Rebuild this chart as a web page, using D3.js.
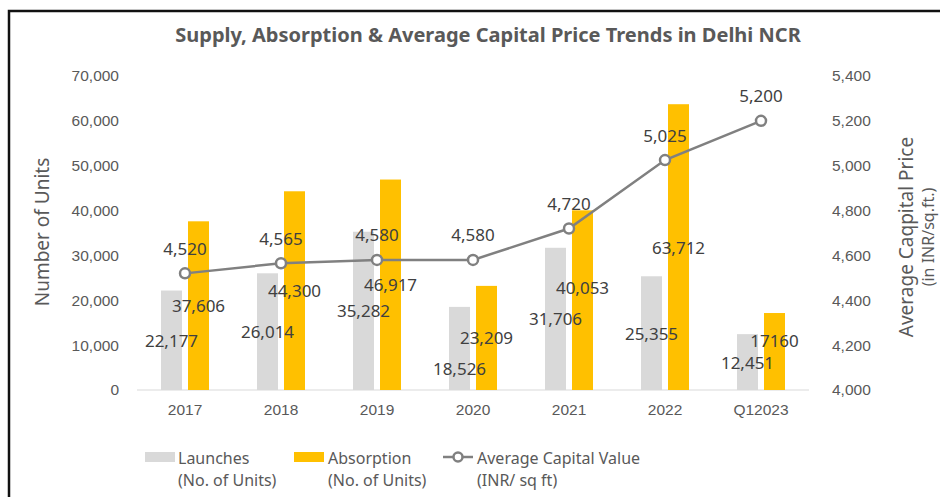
<!DOCTYPE html>
<html>
<head>
<meta charset="utf-8">
<script src="https://cdn.jsdelivr.net/npm/d3@7"></script>
<style>
  body { margin: 0; background: #fff; }
  svg { font-family: "Century Gothic", "Noto Sans", sans-serif; }
</style>
</head>
<body>
<div id="graph"><svg></svg></div>
<script>
// data
let years = ["2017", "2018", "2019", "2020", "2021", "2022", "Q12023"];
let launches = [22177, 26014, 35282, 18526, 31706, 25355, 12451];
let absorption = [37606, 44300, 46917, 23209, 40053, 63712, 17160];
let capitalValue = [4520, 4565, 4580, 4580, 4720, 5025, 5200];
let launchLabels = ["22,177", "26,014", "35,282", "18,526", "31,706", "25,355", "12,451"];
let absorptionLabels = ["37,606", "44,300", "46,917", "23,209", "40,053", "63,712", "17160"];
let unitTicks = [0, 10000, 20000, 30000, 40000, 50000, 60000, 70000];
let priceTicks = [4000, 4200, 4400, 4600, 4800, 5000, 5200, 5400];

let width = 940, height = 497;
let textColor = "#595959";

let svg = d3.select("div#graph svg")
  .attr("width", width)
  .attr("height", height);

// frame (top + left edges only)
svg.append("path")
  .attr("d", "M9,497 V11 H940")
  .attr("fill", "none")
  .attr("stroke", "#111")
  .attr("stroke-width", 2.5);

// scales
let xScale = d3.scaleBand().domain(years).range([137, 809]);
let yUnits = d3.scaleLinear().domain([0, 70000]).range([390, 76]);
let yPrice = d3.scaleLinear().domain([4000, 5400]).range([390, 76]);
let barW = 21, gap = 3;

// title
svg.append("text")
  .attr("x", 488)
  .attr("y", 42)
  .attr("text-anchor", "middle")
  .style("font-size", "20px")
  .style("font-weight", "bold")
  .style("fill", textColor)
  .text("Supply, Absorption & Average Capital Price Trends in Delhi NCR");

// left axis
let fmt = d3.format(",");
svg.append("g")
  .attr("transform", "translate(119,0)")
  .style("font-size", "15.5px")
  .call(d3.axisLeft(yUnits).tickValues(unitTicks).tickFormat(fmt).tickSize(0))
  .call(g => g.select(".domain").remove())
  .call(g => g.selectAll("text").attr("x", 0).style("fill", textColor).style("font-family", "inherit"));

// right axis
svg.append("g")
  .attr("transform", "translate(832,0)")
  .style("font-size", "15.5px")
  .call(d3.axisRight(yPrice).tickValues(priceTicks).tickFormat(fmt).tickSize(0))
  .call(g => g.select(".domain").remove())
  .call(g => g.selectAll("text").attr("x", 0).style("fill", textColor).style("font-family", "inherit"));

// baseline
svg.append("line")
  .attr("x1", 137).attr("x2", 809)
  .attr("y1", yUnits(0)).attr("y2", yUnits(0))
  .attr("stroke", "#d9d9d9")
  .attr("stroke-width", 1);

// x axis labels
svg.append("g")
  .attr("transform", "translate(0," + 390 + ")")
  .style("font-size", "15.5px")
  .call(d3.axisBottom(xScale).tickSize(0).tickPadding(14))
  .call(g => g.select(".domain").remove())
  .call(g => g.selectAll("text").style("fill", textColor).style("font-family", "inherit"));

// axis titles
svg.append("text")
  .attr("transform", "translate(49,232) rotate(-90)")
  .attr("text-anchor", "middle")
  .style("font-size", "19px")
  .style("fill", textColor)
  .text("Number of Units");

let rightTitle = svg.append("text")
  .attr("transform", "translate(907,237) rotate(-90)")
  .attr("text-anchor", "middle")
  .style("font-size", "19px")
  .style("fill", textColor);
rightTitle.append("tspan").attr("x", 0).attr("y", 6).text("Average Caqpital Price");
rightTitle.append("tspan").attr("x", 0).attr("y", 27).style("font-size", "16px").text("(in INR/sq.ft.)");

let cx = d => xScale(d) + xScale.bandwidth() / 2;

// bars
svg.append("g")
  .selectAll("rect")
  .data(years)
  .join("rect")
  .attr("x", (d) => cx(d) - gap - barW)
  .attr("y", (d, i) => yUnits(launches[i]))
  .attr("width", barW)
  .attr("height", (d, i) => yUnits(0) - yUnits(launches[i]))
  .style("fill", "#d9d9d9");

svg.append("g")
  .selectAll("rect")
  .data(years)
  .join("rect")
  .attr("x", (d) => cx(d) + gap)
  .attr("y", (d, i) => yUnits(absorption[i]))
  .attr("width", barW)
  .attr("height", (d, i) => yUnits(0) - yUnits(absorption[i]))
  .style("fill", "#ffc000");

// line
let line = d3.line()
  .x((d, i) => cx(years[i]))
  .y((d) => yPrice(d));

svg.append("path")
  .datum(capitalValue)
  .attr("d", line)
  .attr("fill", "none")
  .attr("stroke", "#808080")
  .attr("stroke-width", 2.5);

svg.append("g")
  .selectAll("circle")
  .data(capitalValue)
  .join("circle")
  .attr("cx", (d, i) => cx(years[i]))
  .attr("cy", (d) => yPrice(d))
  .attr("r", 5)
  .attr("fill", "#fff")
  .attr("stroke", "#808080")
  .attr("stroke-width", 2.5);

// data labels (a few were dragged off-centre in the original)
let labelStyle = sel => sel
  .attr("text-anchor", "middle")
  .attr("dominant-baseline", "central")
  .style("font-size", "17px")
  .style("fill", "#404040");

let launchNudge = { 3: 20 };
let absorptionNudge = { 4: -13, 6: -11 };

svg.append("g")
  .selectAll("text")
  .data(launchLabels)
  .join("text")
  .attr("x", (d, i) => cx(years[i]) - gap - barW / 2)
  .attr("y", (d, i) => (yUnits(launches[i]) + yUnits(0)) / 2 + (launchNudge[i] || 0))
  .call(labelStyle)
  .text(d => d);

svg.append("g")
  .selectAll("text")
  .data(absorptionLabels)
  .join("text")
  .attr("x", (d, i) => cx(years[i]) + gap + barW / 2)
  .attr("y", (d, i) => (yUnits(absorption[i]) + yUnits(0)) / 2 + (absorptionNudge[i] || 0))
  .call(labelStyle)
  .text(d => d);

svg.append("g")
  .selectAll("text")
  .data(capitalValue)
  .join("text")
  .attr("x", (d, i) => cx(years[i]))
  .attr("y", (d) => yPrice(d) - 25)
  .call(labelStyle)
  .text(d => fmt(d));

// legend
let legend = svg.append("g").style("font-size", "16px").style("fill", textColor);

legend.append("rect").attr("x", 145).attr("y", 452).attr("width", 30).attr("height", 10).style("fill", "#d9d9d9");
legend.append("rect").attr("x", 294).attr("y", 452).attr("width", 30).attr("height", 10).style("fill", "#ffc000");
legend.append("line").attr("x1", 443).attr("x2", 473).attr("y1", 457).attr("y2", 457)
  .attr("stroke", "#808080").attr("stroke-width", 2.5);
legend.append("circle").attr("cx", 458).attr("cy", 457).attr("r", 4.5)
  .attr("fill", "#fff").attr("stroke", "#808080").attr("stroke-width", 2.5);

let legendItems = [
  { x: 178, lines: ["Launches", "(No. of Units)"] },
  { x: 328, lines: ["Absorption", "(No. of Units)"] },
  { x: 477, lines: ["Average Capital Value", "(INR/ sq ft)"] }
];
legendItems.forEach(item => {
  item.lines.forEach((t, j) => {
    legend.append("text")
      .attr("x", item.x)
      .attr("y", 458 + j * 22)
      .attr("dominant-baseline", "central")
      .text(t);
  });
});
</script>
</body>
</html>
